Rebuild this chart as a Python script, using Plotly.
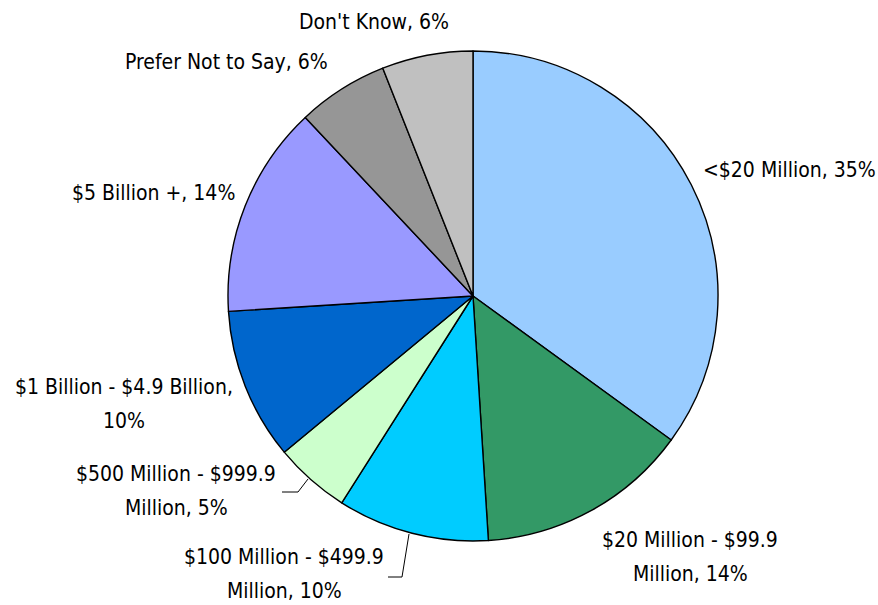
import plotly.graph_objects as go

# Company revenue bands, share of respondents (%)
categories = [
    "<$20 Million",
    "$20 Million - $99.9 Million",
    "$100 Million - $499.9 Million",
    "$500 Million - $999.9 Million",
    "$1 Billion - $4.9 Billion",
    "$5 Billion +",
    "Prefer Not to Say",
    "Don't Know",
]
shares = [35, 14, 10, 5, 10, 14, 6, 6]
colors = ["#99CCFF", "#339966", "#00CCFF", "#CCFFCC",
          "#0066CC", "#9999FF", "#969696", "#C0C0C0"]

# Label text split into lines as displayed next to the pie
label_lines = [
    ["<$20 Million, 35%"],
    ["$20 Million - $99.9", "Million, 14%"],
    ["$100 Million - $499.9", "Million, 10%"],
    ["$500 Million - $999.9", "Million, 5%"],
    ["$1 Billion - $4.9 Billion,", "10%"],
    ["$5 Billion +, 14%"],
    ["Prefer Not to Say, 6%"],
    ["Don't Know, 6%"],
]
# label centre (px) of the first line
label_pos = [(789, 170), (690, 540), (284, 557), (176, 474),
             (124, 387), (153, 193), (226, 62), (374, 22)]

W, H = 878, 605
FONT = "DejaVu Sans Condensed, Roboto Condensed, Roboto, Liberation Sans, sans-serif"
FS = 21
LINE = 34


def px(x, y):
    return x / W, 1 - y / H


fig = go.Figure(go.Pie(
    labels=categories,
    values=shares,
    sort=False,
    direction="clockwise",
    rotation=0,
    marker=dict(colors=colors, line=dict(color="black", width=1.4)),
    textinfo="none",
    hoverinfo="label+percent",
    showlegend=False,
    domain=dict(x=[228 / W, 718 / W], y=[(H - 541) / H, (H - 51) / H]),
))

annotations = []
for lines, (cx, cy) in zip(label_lines, label_pos):
    for i, line in enumerate(lines):
        x, y = px(cx, cy + i * LINE)
        annotations.append(dict(
            x=x, y=y, xref="paper", yref="paper", text=line,
            showarrow=False, xanchor="center", yanchor="middle",
            font=dict(family=FONT, size=FS, color="black"),
        ))

# leader lines for the two small bottom-left slices
leaders = [
    [(282, 492), (298, 492), (308, 479)],
    [(388, 577), (402, 577), (409, 534)],
]
shapes = []
for pts in leaders:
    path = "M " + " L ".join(f"{px(x, y)[0]},{px(x, y)[1]}" for x, y in pts)
    shapes.append(dict(type="path", xref="paper", yref="paper", path=path,
                       line=dict(color="black", width=1)))

fig.update_layout(
    width=W, height=H,
    margin=dict(l=0, r=0, t=0, b=0),
    paper_bgcolor="white",
    plot_bgcolor="white",
    annotations=annotations,
    shapes=shapes,
)

fig.write_html("out.html")
